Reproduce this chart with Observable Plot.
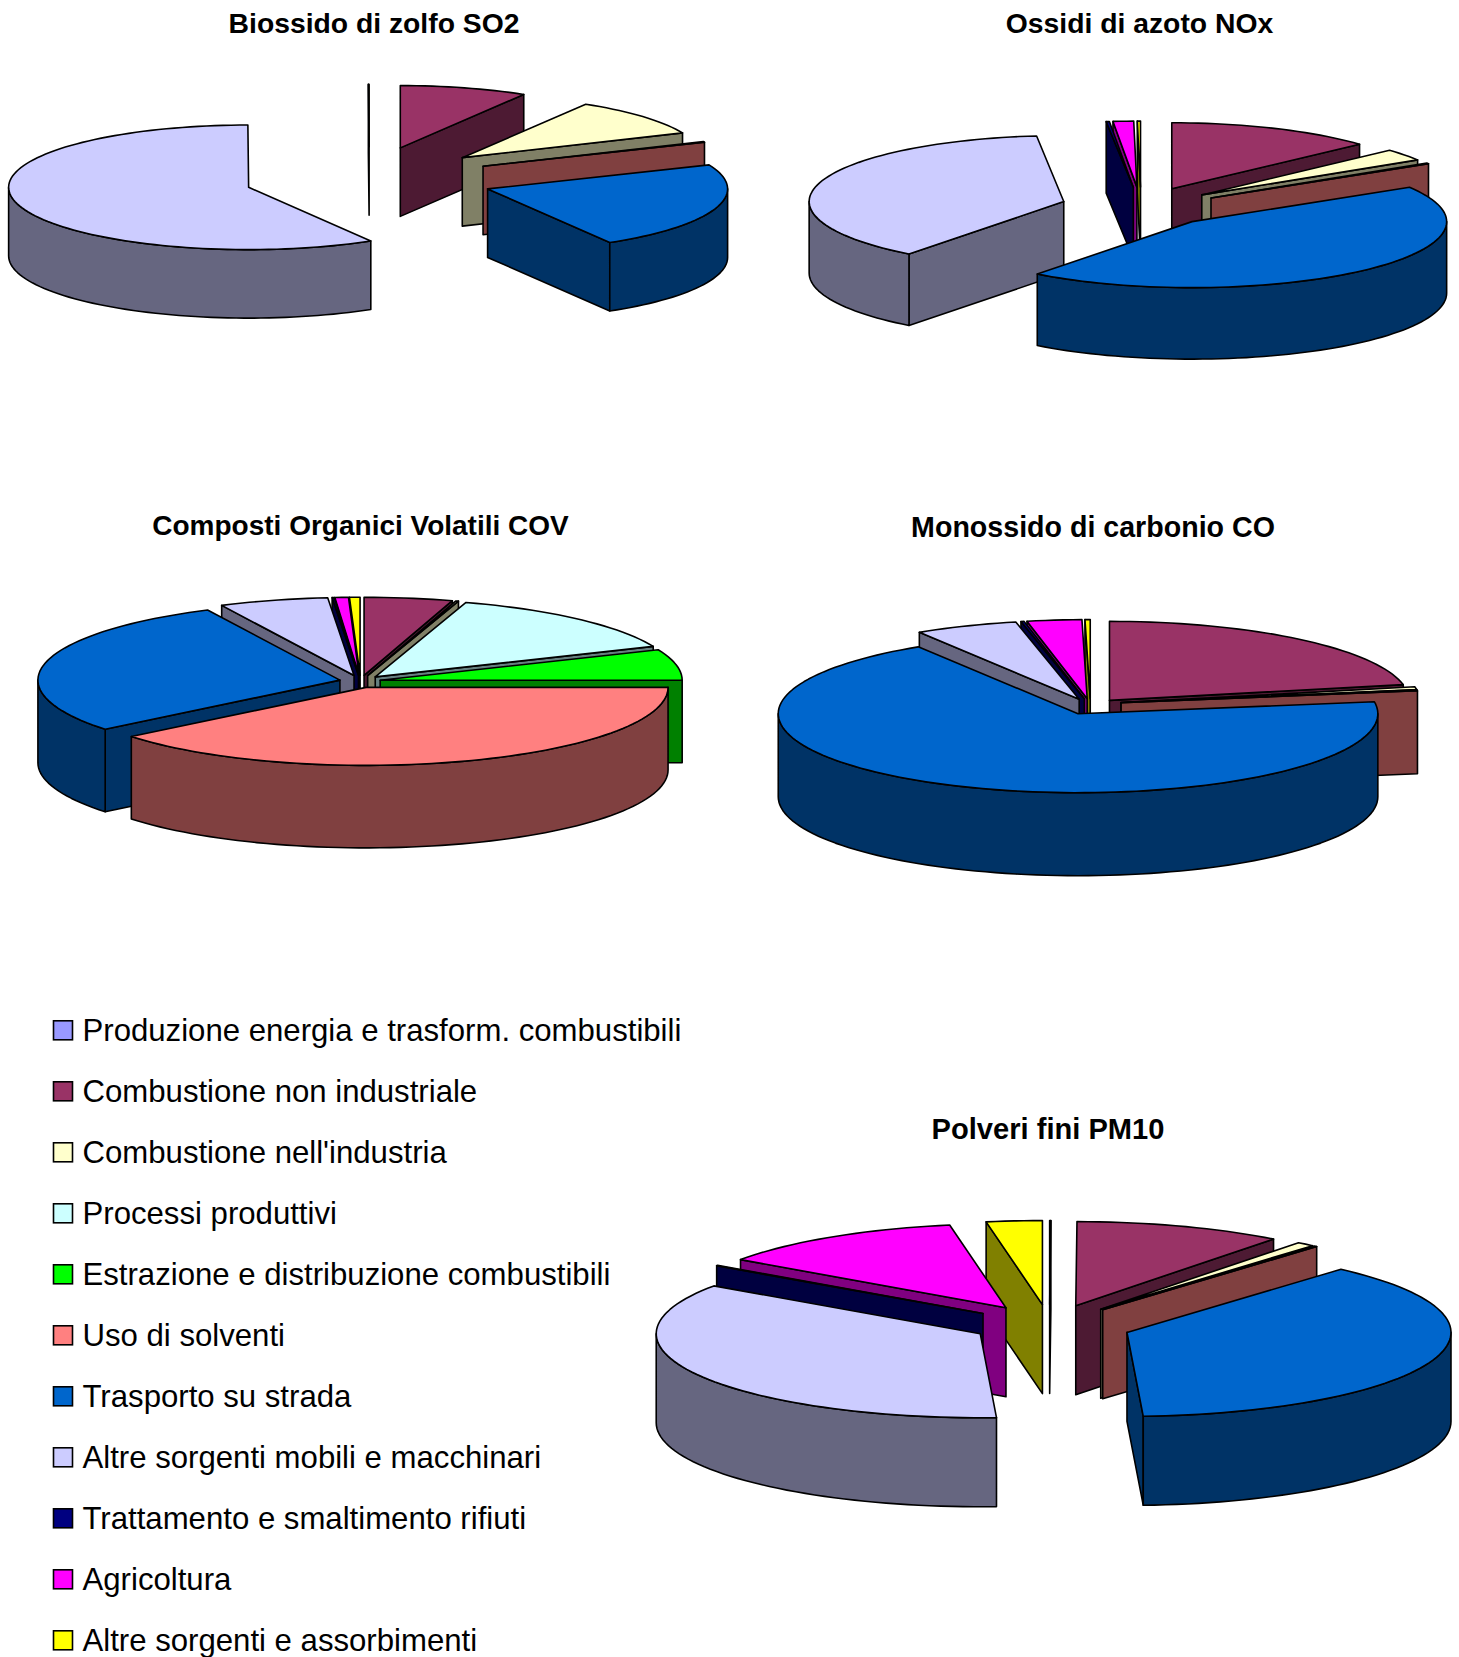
<!DOCTYPE html>
<html>
<head>
<meta charset="utf-8">
<style>html,body{margin:0;padding:0;background:#fff}svg{display:block}</style>
<script src="https://cdn.jsdelivr.net/npm/d3@7"></script>
<script src="https://cdn.jsdelivr.net/npm/@observablehq/plot@0.6"></script>
</head>
<body>
<script>
const categories = ["Produzione energia e trasform. combustibili","Combustione non industriale","Combustione nell'industria","Processi produttivi","Estrazione e distribuzione combustibili","Uso di solventi","Trasporto su strada","Altre sorgenti mobili e macchinari","Trattamento e smaltimento rifiuti","Agricoltura","Altre sorgenti e assorbimenti"];
const colors = ["#9999FF","#993366","#FFFFCC","#CCFFFF","#00FF00","#FF8080","#0066CC","#CCCCFF","#000080","#FF00FF","#FFFF00"];

const so2  = [0, 8.6, 9.9, 0, 0, 0.2, 22.8, 58.45, 0, 0, 0.05];
const nox  = [0, 13.2, 2.9, 0, 0, 0.2, 44.1, 37.9, 0.2, 1.3, 0.2];
const cov  = [0, 4.72, 0.14, 13.75, 6.39, 39.17, 28.61, 5.83, 0.11, 0.72, 0.56];
const co   = [0, 21.81, 0.56, 0, 0, 0.22, 68.47, 5.56, 0.17, 2.94, 0.28];
const pm10 = [0.06, 10.39, 0.89, 0, 0, 0.14, 37.72, 35.44, 0.08, 12.5, 2.78];

const W = 1459, H = 1657;
// layout of each pie; nudge = per-slice pixel shift of an exploded slice, by category index
const pies = [
  {title:"Biossido di zolfo SO2", values:so2, cx:368.8, cy:178.3, rx:240, ry:62.3, depth:68.5, explode:0.515, nudge:{1:[-2,0], 7:[-1.5,0], 6:[1,0]}, tx:373.5, ty:23, fs:28.3},
  {title:"Ossidi di azoto NOx", values:nox, cx:1140.5, cy:206.4, rx:254.6, ry:66, depth:71.5, explode:0.3, nudge:{7:[-3.7,0], 5:[5,1.5]}, tx:1139, ty:23, fs:28.3},
  {title:"Composti Organici Volatili COV", values:cov, cx:360, cy:681, rx:302, ry:78, depth:82.5, explode:0.08, nudge:{5:[-2.5,0], 6:[3,0], 4:[-4,0], 3:[-1.5,0]}, tx:360, ty:525.5, fs:28},
  {title:"Monossido di carbonio CO", values:co, cx:1090, cy:706, rx:299.8, ry:79, depth:83, explode:0.1, nudge:{2:[1,-2.5], 5:[1,-2.5]}, tx:1092.5, ty:527, fs:28.6},
  {title:"Polveri fini PM10", values:pm10, cx:1049, cy:1325, rx:324, ry:84, depth:89, explode:0.25, nudge:{7:[1.5,-2], 6:[1,0]}, tx:1047.5, ty:1129, fs:29.1}
];

const darken = c => { const r = d3.rgb(c); return d3.rgb(r.r/2, r.g/2, r.b/2).formatHex(); };
const rad = d => d * Math.PI / 180;

function piePolygons(p, pi) {
  const total = d3.sum(p.values);
  let acc = 0;
  const slices = [];
  p.values.forEach((v, i) => {
    if (v <= 0) { return; }
    const a = acc / total * 360; acc += v;
    const b = acc / total * 360;
    slices.push({i, a, b, mid:(a + b) / 2});
  });
  slices.sort((s, t) => Math.cos(rad(t.mid)) - Math.cos(rad(s.mid)));
  const out = [];
  for (const s of slices) {
    const [nx, ny] = p.nudge[s.i] || [0, 0];
    const ax = p.cx + nx + p.explode * p.rx * Math.sin(rad(s.mid));
    const ay = p.cy + ny - p.explode * p.ry * Math.cos(rad(s.mid));
    const pt = t => [ax + p.rx * Math.sin(rad(t)), ay - p.ry * Math.cos(rad(t))];
    const arcPts = (from, to) => {
      const n = Math.max(1, Math.ceil((to - from) / 2));
      return d3.range(n + 1).map(k => pt(from + (to - from) * k / n));
    };
    const add = (name, pts, fill) => {
      const key = `${pi}-${s.i}-${name}`;
      [...pts, pts[0]].forEach(q => out.push({key, x:q[0], y:q[1], fill}));
    };
    const side = darken(colors[s.i]);
    const d = p.depth;
    const down = q => [q[0], q[1] + d];
    if (Math.sin(rad(s.a)) < 0) {
      const q = pt(s.a);
      add("start", [[ax,ay], q, down(q), [ax,ay+d]], side);
    }
    if (Math.sin(rad(s.b)) > 0) {
      const q = pt(s.b);
      add("end", [[ax,ay], q, down(q), [ax,ay+d]], side);
    }
    const from = Math.max(s.a, 90), to = Math.min(s.b, 270);
    if (to > from) {
      const arc = arcPts(from, to);
      add("outer", [...arc, ...arc.slice().reverse().map(down)], side);
    }
    add("top", [[ax,ay], ...arcPts(s.a, s.b)], colors[s.i]);
  }
  return out;
}

const polys = pies.flatMap(piePolygons);
const legend = categories.map((name, i) => ({name, i, color:colors[i], y:1030.3 + i * 61}));

const chart = Plot.plot({
  width:W, height:H, margin:0,
  x:{domain:[0,W], range:[0,W], axis:null},
  y:{domain:[0,H], range:[0,H], axis:null},
  color:{type:"identity"},
  marks:[
    Plot.line(polys, {x:"x", y:"y", z:"key", fill:"fill", stroke:"#000", strokeWidth:1.6, strokeLinejoin:"round", curve:"linear"}),
    Plot.text(pies, {x:"tx", y:"ty", text:"title", fontFamily:"Liberation Sans", fontWeight:"bold", fontSize:"fs", fill:"#000", textAnchor:"middle"}),
    Plot.rect(legend, {x1:53.5, x2:72.5, y1:d=>d.y-9.5, y2:d=>d.y+9.5, fill:"color", stroke:"#000", strokeWidth:1.6}),
    Plot.text(legend, {x:82, y:"y", text:"name", fontFamily:"Liberation Sans", fontSize:31.15, fill:"#000", textAnchor:"start"})
  ]
});
document.body.appendChild(chart);
</script>
</body>
</html>
